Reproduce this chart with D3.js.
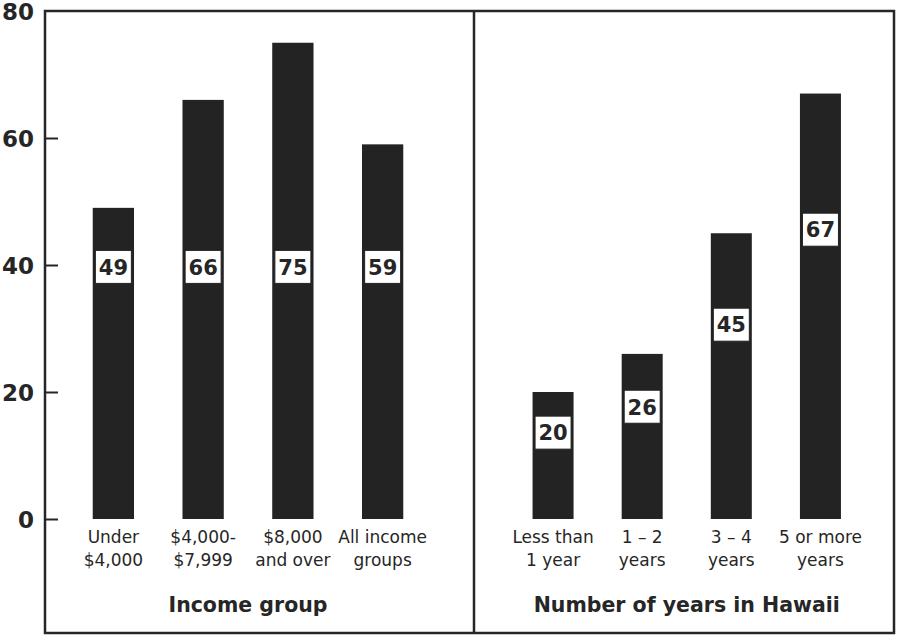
<!DOCTYPE html>
<html>
<head>
<meta charset="utf-8">
<script src="https://cdn.jsdelivr.net/npm/d3@7"></script>
<style>
  html, body { margin: 0; padding: 0; background: #fff; }
  svg { display: block; }
</style>
</head>
<body>
<svg id="chart" width="898" height="636"></svg>
<script>
// Percent values by income group and by length of residence
const incomeGroups = [["Under", "$4,000"], ["$4,000-", "$7,999"], ["$8,000", "and over"], ["All income", "groups"]];
const incomeValues = [49, 66, 75, 59];

const residenceGroups = [["Less than", "1 year"], ["1 \u2013 2", "years"], ["3 \u2013 4", "years"], ["5 or more", "years"]];
const residenceValues = [20, 26, 45, 67];

const yTicks = [0, 20, 40, 60, 80];
const panelTitles = ["Income group", "Number of years in Hawaii"];

const ink = "#262626";
const barColor = "#232323";
const svg = d3.select("#chart");

const frame = { left: 45, right: 894, top: 11, bottom: 633, divider: 474 };
const y = d3.scaleLinear().domain([0, 80]).range([519, frame.top]);

// Frame around both panels plus the divider
svg.append("rect")
  .attr("x", frame.left).attr("y", frame.top)
  .attr("width", frame.right - frame.left).attr("height", frame.bottom - frame.top)
  .attr("fill", "none").attr("stroke", ink).attr("stroke-width", 2.5);
svg.append("line")
  .attr("x1", frame.divider).attr("x2", frame.divider)
  .attr("y1", frame.top).attr("y2", frame.bottom)
  .attr("stroke", ink).attr("stroke-width", 2.5);

// Vertical axis: labels outside, short ticks inside the frame
const yAxis = svg.append("g")
  .attr("transform", `translate(${frame.left},0)`)
  .call(d3.axisLeft(y).tickValues(yTicks).tickSize(-13).tickPadding(12).tickFormat(d3.format("d")));
yAxis.select(".domain").remove();
yAxis.selectAll(".tick line").attr("stroke", ink).attr("stroke-width", 2);
yAxis.selectAll(".tick").filter(d => d === 80).select("line").remove();
yAxis.selectAll(".tick text")
  .attr("x", -11)
  .attr("dy", "0.35em")
  .attr("fill", ink)
  .style("font-family", "'DejaVu Sans', sans-serif")
  .style("font-weight", "bold")
  .style("font-size", "23px");

function drawPanel(groups, values, range, title, labelValue) {
  const keys = groups.map(g => g.join(" "));
  const x = d3.scaleBand().domain(keys).range(range).paddingInner(0.54).paddingOuter(0.27);
  const g = svg.append("g");
  const rows = keys.map((k, i) => ({ key: k, value: values[i], lines: groups[i] }));

  g.selectAll("rect.bar").data(rows).join("rect")
    .attr("class", "bar")
    .attr("x", d => x(d.key))
    .attr("width", x.bandwidth())
    .attr("y", d => y(d.value))
    .attr("height", d => y(0) - y(d.value))
    .attr("fill", barColor);

  // Value tags: white boxes set into each bar
  const boxW = 36, boxH = 33;
  const tag = g.selectAll("g.tag").data(rows).join("g")
    .attr("class", "tag")
    .attr("transform", d => `translate(${x(d.key) + x.bandwidth() / 2},${y(labelValue(d.value))})`);
  tag.append("rect")
    .attr("x", -boxW / 2).attr("y", -boxH / 2)
    .attr("width", boxW).attr("height", boxH)
    .attr("fill", "#fff").attr("stroke", barColor).attr("stroke-width", 1);
  tag.append("text")
    .attr("text-anchor", "middle")
    .attr("dy", "0.37em")
    .attr("fill", ink)
    .style("font-family", "'DejaVu Sans', sans-serif")
    .style("font-weight", "bold")
    .style("font-size", "21px")
    .text(d => d.value);

  // Category labels on two lines under each bar
  const xAxis = g.append("g")
    .attr("transform", `translate(0,${y(0)})`)
    .call(d3.axisBottom(x).tickSize(0).tickPadding(0));
  xAxis.select(".domain").remove();
  xAxis.selectAll(".tick text").each(function(k) {
    const lines = rows.find(r => r.key === k).lines;
    const t = d3.select(this).text(null).attr("y", 0).attr("dy", null)
      .attr("fill", ink)
      .style("font-family", "'DejaVu Sans', sans-serif")
      .style("font-size", "17px");
    lines.forEach((line, i) => {
      t.append("tspan").attr("x", 0).attr("y", 24 + i * 23).text(line);
    });
  });

  // Panel title centred under the bar group
  const first = x(keys[0]), last = x(keys[keys.length - 1]) + x.bandwidth();
  g.append("text")
    .attr("x", (first + last) / 2)
    .attr("y", 612)
    .attr("text-anchor", "middle")
    .attr("fill", ink)
    .style("font-family", "'DejaVu Sans', sans-serif")
    .style("font-weight", "bold")
    .style("font-size", "20.5px")
    .text(title);
}

drawPanel(incomeGroups, incomeValues, [68.5, 427.5], panelTitles[0], () => 39.7);
drawPanel(residenceGroups, residenceValues, [508.5, 865], panelTitles[1], v => v * 0.68);
</script>
</body>
</html>
